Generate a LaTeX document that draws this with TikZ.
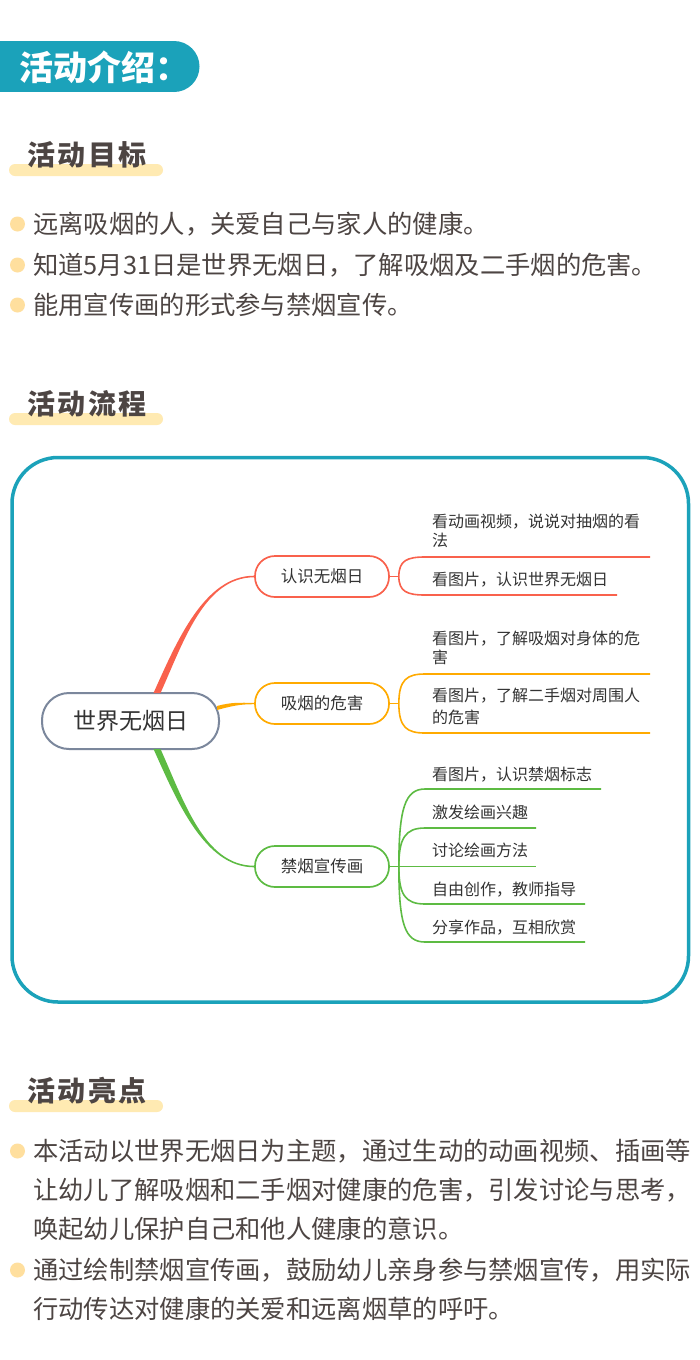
\documentclass[tikz,border=0pt]{standalone}
\usepackage{fontspec}
\setmainfont{Noto Sans CJK SC}
\usetikzlibrary{calc}
\definecolor{tealc}{HTML}{1BA2BA}
\definecolor{bodyc}{HTML}{4D4543}
\definecolor{barc}{HTML}{FFEAB2}
\definecolor{dotc}{HTML}{FFDF9E}
\definecolor{mindc}{HTML}{333333}
\definecolor{rootc}{HTML}{7B879C}
\definecolor{redc}{HTML}{F9614C}
\definecolor{orac}{HTML}{FFAA00}
\definecolor{grnc}{HTML}{5DBB43}
\begin{document}
\begin{tikzpicture}[x=1pt,y=-1pt,
  heading/.style={anchor=west,inner sep=0,text=bodyc,font=\fontsize{28}{32}\selectfont\bfseries\addfontfeature{LetterSpace=9}},
  bar/.style={fill=barc,rounded corners=6},
  dot/.style={fill=dotc},
  body/.style={anchor=west,inner sep=0,text=bodyc,font=\fontsize{25.3}{30}\selectfont},
  rootbox/.style={draw=rootc,line width=2,fill=white,rounded corners=27,minimum width=177,minimum height=56,inner sep=0,text=mindc,font=\fontsize{23}{27}\selectfont},
  brbox/.style={line width=1.7,fill=white,rounded corners=20,minimum width=134,minimum height=41,inner sep=0,text=mindc,font=\fontsize{16.5}{20}\selectfont},
  leaf/.style={anchor=west,inner sep=0,text=mindc,font=\fontsize{16}{19}\selectfont},
  sub/.style={line width=1.6}
]
\useasboundingbox (0,0) rectangle (700,1360);
\fill[white] (0,0) rectangle (700,1360);

% header banner
\fill[tealc] (0,41) rectangle (175,92);
\fill[tealc] (174,66.5) circle[radius=25.5];
\node[anchor=west,inner sep=0,text=white,font=\fontsize{34}{38}\selectfont\bfseries] (hdr) at (19,67) {活动介绍：};

% section 1
\fill[bar] (9,164) rectangle (163,176);
\node[heading] (h1) at (27,155) {活动目标};
\fill[dot] (17.5,224) circle[radius=7.5];
\fill[dot] (17.5,265) circle[radius=7.5];
\fill[dot] (17.5,305) circle[radius=7.5];
\node[body] (g1) at (33,224) {远离吸烟的人，关爱自己与家人的健康。};
\node[body] (g2) at (33,265) {知道5月31日是世界无烟日，了解吸烟及二手烟的危害。};
\node[body] (g3) at (33,305) {能用宣传画的形式参与禁烟宣传。};

% section 2
\fill[bar] (9,413) rectangle (163,425);
\node[heading] (h2) at (27,404) {活动流程};
\draw[tealc,line width=3.5,rounded corners=46] (12,457.5) rectangle (688.5,1002);

% mind map nodes
\node[rootbox] (root) at (130.5,721) {世界无烟日};
\node[brbox,draw=redc] (b1) at (322,576.5) {认识无烟日};
\node[brbox,draw=orac] (b2) at (322,703.5) {吸烟的危害};
\node[brbox,draw=grnc] (b3) at (322,866.5) {禁烟宣传画};

% main connectors (tapered)
\fill[redc] ($(root.north)+(23,1)$) .. controls +(23,-51) and +(-50,0) .. ($(b1.west)+(0,-0.8)$)
  -- ($(b1.west)+(0,0.8)$) .. controls +(-50,0) and +(23,-51) .. ($(root.north)+(30,1)$) -- cycle;
\fill[orac] ($(root.east)+(-3,-15)$) .. controls +(15,-4) and +(-15,0) .. ($(b2.west)+(0,-0.7)$)
  -- ($(b2.west)+(0,0.7)$) .. controls +(-15,0) and +(15,-4) .. ($(root.east)+(-3,-11)$) -- cycle;
\fill[grnc] ($(root.south)+(23,-1)$) .. controls +(23,51) and +(-50,0) .. ($(b3.west)+(0,0.8)$)
  -- ($(b3.west)+(0,-0.8)$) .. controls +(-50,0) and +(23,51) .. ($(root.south)+(30,-1)$) -- cycle;

% forks
\coordinate (f1) at ($(b1.east)+(9,0)$);
\coordinate (f2) at ($(b2.east)+(9,0)$);
\coordinate (f3) at ($(b3.east)+(9,0)$);

% red leaves
\coordinate (s11) at (425,557); \coordinate (e11) at (650,557);
\coordinate (s12) at (425,595); \coordinate (e12) at (617,595);
\draw[sub,redc] (b1.east) -- (f1);
\draw[sub,redc] (f1) .. controls +(0,-16) and +(-18,0) .. (s11) -- (e11);
\draw[sub,redc] (f1) .. controls +(0,15) and +(-18,0) .. (s12) -- (e12);
\node[leaf] (t11a) at (432,521.5) {看动画视频，说说对抽烟的看};
\node[leaf] (t11b) at (432,540.5) {法};
\node[leaf] (t12) at (432,579.5) {看图片，认识世界无烟日};

% orange leaves
\coordinate (s21) at (425,674); \coordinate (e21) at (650,674);
\coordinate (s22) at (425,733); \coordinate (e22) at (650,733);
\draw[sub,orac] (b2.east) -- (f2);
\draw[sub,orac] (f2) .. controls +(0,-24) and +(-18,0) .. (s21) -- (e21);
\draw[sub,orac] (f2) .. controls +(0,24) and +(-18,0) .. (s22) -- (e22);
\node[leaf] (t21a) at (432,638.5) {看图片，了解吸烟对身体的危};
\node[leaf] (t21b) at (432,657.5) {害};
\node[leaf] (t22a) at (432,696) {看图片，了解二手烟对周围人};
\node[leaf] (t22b) at (432,717) {的危害};

% green leaves
\coordinate (s31) at (425,789); \coordinate (e31) at (601,789);
\coordinate (s32) at (425,828); \coordinate (e32) at (536,828);
\coordinate (e33) at (536,866.5);
\coordinate (s34) at (425,904); \coordinate (e34) at (585,904);
\coordinate (s35) at (425,942); \coordinate (e35) at (585,942);
\draw[sub,grnc] (b3.east) -- (f3);
\draw[sub,grnc] (f3) .. controls +(0,-58) and +(-20,0) .. (s31) -- (e31);
\draw[sub,grnc] (f3) .. controls +(0,-28) and +(-20,0) .. (s32) -- (e32);
\draw[sub,grnc] (f3) -- (e33);
\draw[sub,grnc] (f3) .. controls +(0,28) and +(-20,0) .. (s34) -- (e34);
\draw[sub,grnc] (f3) .. controls +(0,58) and +(-20,0) .. (s35) -- (e35);
\node[leaf] (t31) at (432,774.5) {看图片，认识禁烟标志};
\node[leaf] (t32) at (432,812.5) {激发绘画兴趣};
\node[leaf] (t33) at (432,850.5) {讨论绘画方法};
\node[leaf] (t34) at (432,889.5) {自由创作，教师指导};
\node[leaf] (t35) at (432,927.5) {分享作品，互相欣赏};

% section 3
\fill[bar] (9,1100) rectangle (163,1112);
\node[heading] (h3) at (27,1091) {活动亮点};
\fill[dot] (17.5,1151) circle[radius=7.5];
\fill[dot] (17.5,1270) circle[radius=7.5];
\node[body] (p1a) at (33,1151) {本活动以世界无烟日为主题，通过生动的动画视频、插画等};
\node[body] (p1b) at (33,1190) {让幼儿了解吸烟和二手烟对健康的危害，引发讨论与思考，};
\node[body] (p1c) at (33,1229) {唤起幼儿保护自己和他人健康的意识。};
\node[body] (p2a) at (33,1270) {通过绘制禁烟宣传画，鼓励幼儿亲身参与禁烟宣传，用实际};
\node[body] (p2b) at (33,1309) {行动传达对健康的关爱和远离烟草的呼吁。};
\end{tikzpicture}
\end{document}
